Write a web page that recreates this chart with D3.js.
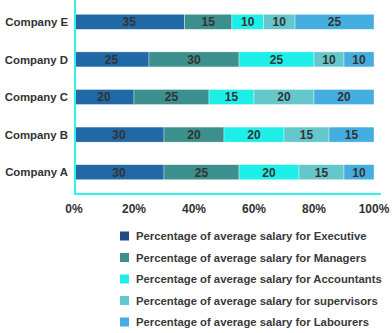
<!DOCTYPE html>
<html>
<head>
<meta charset="utf-8">
<script src="https://cdn.jsdelivr.net/npm/d3@7"></script>
<style>
  body { margin: 0; background: #fff; }
  text { font-family: "Liberation Sans", Arial, sans-serif; }
</style>
</head>
<body>
<svg id="chart"></svg>
<script>
// companies from top to bottom
const companies = ["Company E", "Company D", "Company C", "Company B", "Company A"];
const roles = ["Executive", "Managers", "Accountants", "supervisors", "Labourers"];

const executive   = [35, 25, 20, 30, 30];
const managers    = [15, 30, 25, 20, 25];
const accountants = [10, 25, 15, 20, 20];
const supervisors = [10, 10, 20, 15, 15];
const labourers   = [25, 10, 20, 15, 10];

const tickLabels = ["0%", "20%", "40%", "60%", "80%", "100%"];

const barColors = ["#2068a6", "#3b8f8d", "#1eeee8", "#64c7cc", "#45aee1"];
const swatchColors = ["#1f4c86", "#3b8f8d", "#1eeee8", "#64c7cc", "#45aee1"];

const width = 392, height = 333;
const margin = { top: 3, right: 18, bottom: 139, left: 74 };

const svg = d3.select("#chart")
    .attr("width", width)
    .attr("height", height);

// build rows for the stack
const series = [executive, managers, accountants, supervisors, labourers];
const rows = companies.map((c, i) => {
    const r = { company: c };
    roles.forEach((role, j) => { r[role] = series[j][i]; });
    return r;
});

const stack = d3.stack()
    .keys(roles)
    .offset(d3.stackOffsetExpand);
const layers = stack(rows);

const x = d3.scaleLinear()
    .domain([0, 1])
    .range([margin.left, width - margin.right]);

const y = d3.scaleBand()
    .domain(companies)
    .range([margin.top, height - margin.bottom - 3])
    .paddingInner(0.6)
    .paddingOuter(0.3);

// stacked bars
const g = svg.append("g");
layers.forEach((layer, j) => {
    const lg = g.append("g").attr("fill", barColors[j]);
    lg.selectAll("rect")
      .data(layer)
      .enter().append("rect")
      .attr("x", d => x(d[0]))
      .attr("y", d => y(d.data.company))
      .attr("width", d => x(d[1]) - x(d[0]))
      .attr("height", y.bandwidth())
      .style("stroke", "#ffffff")
      .style("stroke-width", 0.6)
      .style("stroke-opacity", 0.6);

    lg.selectAll("text")
      .data(layer)
      .enter().append("text")
      .attr("x", d => (x(d[0]) + x(d[1])) / 2)
      .attr("y", d => y(d.data.company) + y.bandwidth() / 2)
      .attr("dy", "0.36em")
      .attr("text-anchor", "middle")
      .attr("font-size", 12)
      .attr("font-weight", "bold")
      .attr("fill", "#333")
      .text(d => d.data[roles[j]]);
});

// company labels
svg.append("g")
   .selectAll("text")
   .data(companies)
   .enter().append("text")
   .attr("x", 68)
   .attr("y", d => y(d) + y.bandwidth() / 2)
   .attr("dy", "0.36em")
   .attr("text-anchor", "end")
   .attr("font-size", 11.4)
   .attr("font-weight", "bold")
   .attr("fill", "#333")
   .text(d => d);

// axis lines
const axisBottomY = height - margin.bottom;
svg.append("line")
   .attr("x1", margin.left + 1).attr("x2", margin.left + 1)
   .attr("y1", 0).attr("y2", axisBottomY)
   .style("stroke", "#2ef2ee").style("stroke-width", 2);
svg.append("line")
   .attr("x1", margin.left).attr("x2", 381)
   .attr("y1", axisBottomY).attr("y2", axisBottomY)
   .style("stroke", "#2ef2ee").style("stroke-width", 2);

// tick labels
svg.append("g")
   .selectAll("text")
   .data(tickLabels)
   .enter().append("text")
   .attr("x", (d, i) => x(i / (tickLabels.length - 1)))
   .attr("y", axisBottomY + 19)
   .attr("text-anchor", "middle")
   .attr("font-size", 12)
   .attr("font-weight", "bold")
   .attr("fill", "#333")
   .text(d => d);

// legend
const legend = svg.append("g")
   .selectAll("g")
   .data(roles)
   .enter().append("g")
   .attr("transform", (d, i) => `translate(120, ${236 + i * 21.5})`);

legend.append("rect")
   .attr("x", 0).attr("y", -4.5)
   .attr("width", 9).attr("height", 9)
   .attr("fill", (d, i) => swatchColors[i]);

legend.append("text")
   .attr("x", 16)
   .attr("dy", "0.36em")
   .attr("font-size", 11.3)
   .attr("font-weight", "bold")
   .attr("fill", "#3a3a3a")
   .text(d => "Percentage of average salary for " + d);
</script>
</body>
</html>
